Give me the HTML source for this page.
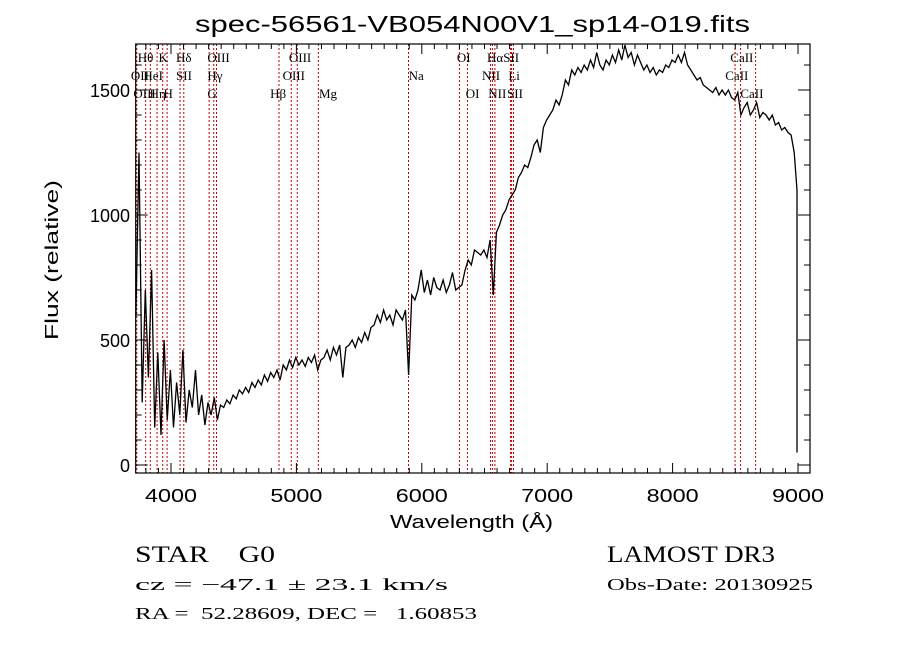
<!DOCTYPE html>
<html><head><meta charset="utf-8"><style>
body{margin:0;background:#fff;}
svg{display:block;}
.t{font-family:"Liberation Sans",sans-serif;fill:#000;}
.s{font-family:"Liberation Serif",serif;fill:#000;}
</style></head><body>
<svg id="chart" width="900" height="649" viewBox="0 0 900 649">
<text class="t" x="195" y="32" font-size="23" textLength="555" lengthAdjust="spacingAndGlyphs">spec-56561-VB054N00V1_sp14-019.fits</text>
<text class="t" x="58" y="260" font-size="18" text-anchor="middle" textLength="160" lengthAdjust="spacingAndGlyphs" transform="rotate(-90 58 260)">Flux (relative)</text>
<text class="t" x="390" y="528" font-size="18" textLength="163" lengthAdjust="spacingAndGlyphs">Wavelength (Å)</text>
<text class="s" x="135" y="562" font-size="23" xml:space="preserve" textLength="140" lengthAdjust="spacingAndGlyphs">STAR    G0</text>
<text class="s" x="607" y="562" font-size="23" textLength="168" lengthAdjust="spacingAndGlyphs">LAMOST DR3</text>
<text class="s" x="135" y="590" font-size="17" textLength="313" lengthAdjust="spacingAndGlyphs">cz = −47.1 ± 23.1 km/s</text>
<text class="s" x="607" y="590" font-size="17" textLength="206" lengthAdjust="spacingAndGlyphs">Obs-Date: 20130925</text>
<text class="s" x="135" y="619" font-size="17" xml:space="preserve" textLength="342" lengthAdjust="spacingAndGlyphs">RA =  52.28609, DEC =   1.60853</text>
<g id="plot"></g>
</svg>
<script>
const wlStart = 3720;
const wlStep = 25;
const flux = [600,1250,250,700,350,780,150,450,120,500,180,380,150,330,200,460,170,300,230,380,200,280,160,250,200,270,180,240,230,260,245,280,265,300,285,310,290,330,310,340,320,360,335,370,350,380,340,400,380,420,390,430,400,420,395,430,410,440,380,420,430,460,420,470,440,480,350,470,480,500,470,510,490,530,500,550,560,600,570,620,580,600,560,620,600,580,620,360,680,660,700,780,690,740,680,750,710,700,740,690,720,770,700,710,720,780,820,800,860,850,840,860,830,900,680,930,960,1000,1020,1060,1080,1100,1150,1170,1200,1190,1230,1280,1300,1250,1350,1380,1400,1420,1460,1440,1480,1540,1520,1580,1560,1590,1570,1600,1580,1620,1590,1650,1600,1580,1620,1600,1640,1610,1660,1620,1680,1630,1650,1600,1640,1610,1580,1600,1570,1590,1560,1580,1570,1600,1590,1620,1610,1640,1610,1650,1600,1580,1560,1540,1550,1520,1510,1500,1490,1510,1480,1500,1480,1500,1470,1460,1490,1400,1430,1450,1400,1420,1450,1390,1410,1400,1380,1400,1360,1370,1340,1350,1330,1320,1250,1100,50];
const xTicks = [4000,5000,6000,7000,8000,9000];
const yTicks = [0,500,1000,1500];
const lineWl = [3727,3798,3835,3889,3934,3969,4072,4102,4304,4341,4363,4861,4959,5007,5175,5894,6300,6364,6548,6563,6583,6708,6716,6731,8498,8542,8662];
const lineLabels = ["Hθ","K","Hδ","OIII","OIII","OI","HαSII","CaII","OII","HeI","SII","Hγ","OIII","Na","NII","Li","CaII","OIII","Hη","H","G","Hβ","Mg","OI","NII","SII","CaII"];
const labelWl = [3735,3900,4040,4290,4940,6280,6520,8460,3680,3780,4040,4290,4890,5895,6480,6690,8420,3700,3830,3940,4290,4790,5180,6350,6530,6680,8540];
const labelRow = [0,0,0,0,0,0,0,0,1,1,1,1,1,1,1,1,1,2,2,2,2,2,2,2,2,2,2];

const X0=135.7,X1=810,Y0=473,Y1=44;
const xs=w=>171+(w-4000)*0.1254;
const ys=f=>465-f*0.25;
const NS="http://www.w3.org/2000/svg";
const g=document.getElementById('plot');
function mk(t,a){const e=document.createElementNS(NS,t);for(const k in a)e.setAttribute(k,a[k]);g.appendChild(e);return e;}

lineWl.forEach((w,i)=>{
  const l=mk('line',{x1:xs(w),x2:xs(w),y1:Y1,y2:Y0,stroke:"#c00000","stroke-width":1,"stroke-dasharray":"2,2"});
  
  
});
lineLabels.forEach((s,i)=>{
  const t=mk('text',{x:xs(labelWl[i]),y:62+labelRow[i]*18,"font-size":13,class:"s"});
  t.textContent=s;
  
  
});

let d="";
flux.forEach((f,i)=>{const w=wlStart+i*wlStep;const x=Math.min(xs(w),797);d+=(i?"L":"M")+x.toFixed(1)+","+Math.max(ys(f),Y1).toFixed(1);});
const p=mk('path',{d:d,fill:"none",stroke:"#000","stroke-width":1.3});



const fr=mk('rect',{x:X0,y:Y1,width:X1-X0,height:Y0-Y1,fill:"none",stroke:"#000","stroke-width":1.2});



for(let w=3800;w<=9000;w+=100){
  const major=w%1000===0;const len=major?10:5;const x=xs(w);
  mk('line',{x1:x,x2:x,y1:Y0,y2:Y0-len,stroke:"#000"});
  mk('line',{x1:x,x2:x,y1:Y1,y2:Y1+len,stroke:"#000"});
}
xTicks.forEach(w=>{
  const t=mk('text',{x:xs(w)-26,y:502,"font-size":18,textLength:52,lengthAdjust:"spacingAndGlyphs",class:"t"});
  t.textContent=w;
  
  
});
for(let f=0;f<=1600;f+=100){
  const major=f%500===0;const len=major?12:6;const y=ys(f);
  mk('line',{x1:X0,x2:X0+len,y1:y,y2:y,stroke:"#000"});
  mk('line',{x1:X1,x2:X1-len,y1:y,y2:y,stroke:"#000"});
}
yTicks.forEach(f=>{
  const t=mk('text',{x:130,y:ys(f)+7,"font-size":18,"text-anchor":"end",class:"t"});
  t.textContent=f;
  
  
});
</script>
</body></html>
